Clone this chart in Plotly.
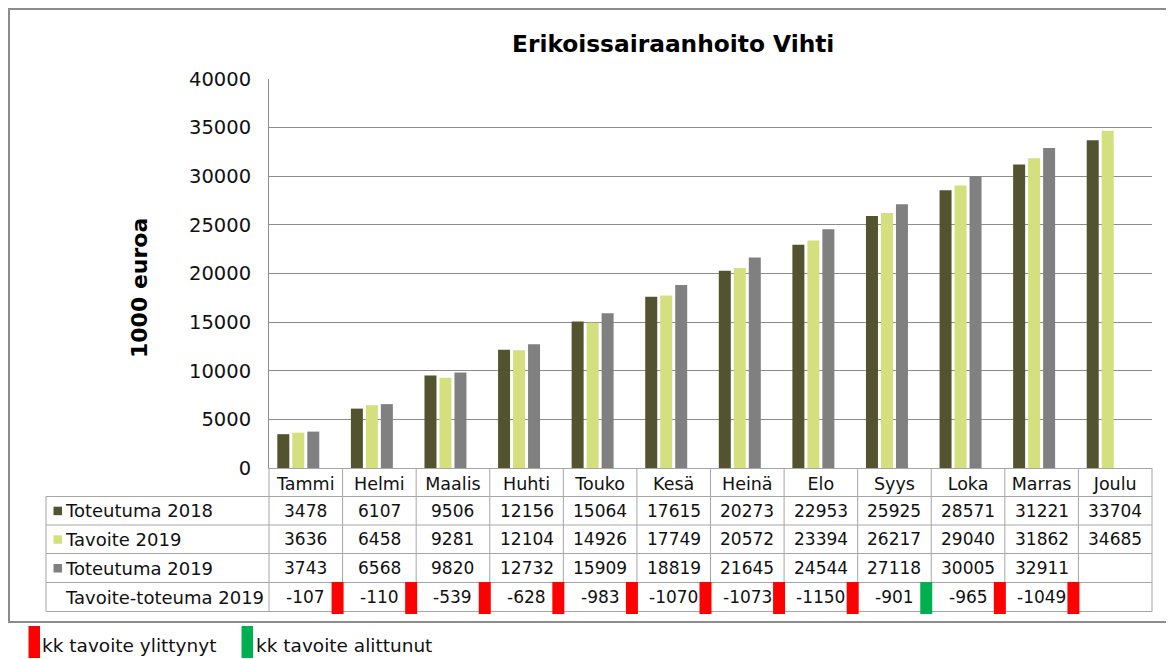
import plotly.graph_objects as go

# ---------------- data ----------------
months = ["Tammi", "Helmi", "Maalis", "Huhti", "Touko", "Kesä",
          "Heinä", "Elo", "Syys", "Loka", "Marras", "Joulu"]
toteutuma_2018 = [3478, 6107, 9506, 12156, 15064, 17615,
                  20273, 22953, 25925, 28571, 31221, 33704]
tavoite_2019 = [3636, 6458, 9281, 12104, 14926, 17749,
                20572, 23394, 26217, 29040, 31862, 34685]
toteutuma_2019 = [3743, 6568, 9820, 12732, 15909, 18819,
                  21645, 24544, 27118, 30005, 32911, None]
tavoite_toteuma_2019 = [-107, -110, -539, -628, -983, -1070,
                        -1073, -1150, -901, -965, -1049, None]
y_ticks = [0, 5000, 10000, 15000, 20000, 25000, 30000, 35000, 40000]

series_names = ["Toteutuma 2018", "Tavoite 2019", "Toteutuma 2019"]
series_values = [toteutuma_2018, tavoite_2019, toteutuma_2019]
series_colors = ["#545330", "#D4E07E", "#808080"]
diff_name = "Tavoite-toteuma 2019"
legend_texts = ["kk tavoite ylittynyt", "kk tavoite alittunut"]
RED, GREEN = "#FF0000", "#00B050"

# ---------------- geometry helpers ----------------
# The page body has an 8px margin, so the figure is sized to fill the
# remaining viewport and all design positions are given in window pixels.
OFF = 8
FW, FH = 1174 - OFF, 659 - OFF
def px(x):
    return (x - OFF) / FW
def py(y):
    return 1 - (y - OFF) / FH

FONT = "DejaVu Sans"
X0, X1 = 269, 1152
Y0, YTOP = 468, 79
TABLE_LEFT = 46
row_lines = [496.5, 525, 553.5, 582.5, 611.5]
row_centers = [510.7, 539.3, 568, 597]

fig = go.Figure()
for name, vals, col in zip(series_names, series_values, series_colors):
    fig.add_trace(go.Bar(x=months, y=vals, name=name, marker_color=col,
                         marker_line_width=0, showlegend=False))
# fourth (difference) series: part of the chart, falls below the axis
fig.add_trace(go.Bar(x=months, y=tavoite_toteuma_2019, name=diff_name,
                     marker_color="rgba(0,0,0,0)", showlegend=False,
                     hoverinfo="skip"))

shapes = []
annotations = []
TABLE_LINE = "#A6A6A6"

# outer chart border
shapes.append(dict(type="rect", xref="paper", yref="paper",
                   x0=px(9), x1=px(1171), y0=py(622), y1=py(9),
                   line=dict(color="#8C8C8C", width=2), layer="below"))

# table grid
for yl in row_lines:
    shapes.append(dict(type="line", xref="paper", yref="paper",
                       x0=px(TABLE_LEFT), x1=px(X1), y0=py(yl), y1=py(yl),
                       line=dict(color=TABLE_LINE, width=1)))
n = len(months)
for i in range(n + 1):
    xb = X0 + (X1 - X0) * i / n
    shapes.append(dict(type="line", xref="paper", yref="paper",
                       x0=px(xb), x1=px(xb), y0=py(Y0), y1=py(row_lines[-1]),
                       line=dict(color=TABLE_LINE, width=1)))
shapes.append(dict(type="line", xref="paper", yref="paper",
                   x0=px(TABLE_LEFT), x1=px(TABLE_LEFT),
                   y0=py(row_lines[0]), y1=py(row_lines[-1]),
                   line=dict(color=TABLE_LINE, width=1)))

# row labels with colour keys
for k, (name, col) in enumerate(zip(series_names, series_colors)):
    yc = row_centers[k]
    shapes.append(dict(type="rect", xref="paper", yref="paper",
                       x0=px(53.5), x1=px(62), y0=py(yc + 4.5), y1=py(yc - 4),
                       fillcolor=col, line=dict(width=0)))
    annotations.append(dict(xref="paper", yref="paper", x=px(62.5), y=py(yc),
                            text=name, showarrow=False, xanchor="left",
                            yanchor="middle",
                            font=dict(family=FONT, size=18, color="#111")))
annotations.append(dict(xref="paper", yref="paper", x=px(62.5), y=py(row_centers[3]),
                        text=diff_name, showarrow=False, xanchor="left",
                        yanchor="middle",
                        font=dict(family=FONT, size=18, color="#111")))

# table values
for k, vals in enumerate(series_values + [tavoite_toteuma_2019]):
    for m, v in zip(months, vals):
        if v is None:
            continue
        annotations.append(dict(xref="x", yref="paper", x=m, y=py(row_centers[k]),
                                text=str(v), showarrow=False,
                                xanchor="center", yanchor="middle",
                                font=dict(family=FONT, size=17, color="#111")))

# monthly status markers (red: monthly target exceeded, green: undershot)
prev = 0
col_px = (X1 - X0) / n
for i, d in enumerate(tavoite_toteuma_2019):
    if d is None:
        continue
    color = GREEN if d > prev else RED
    prev = d
    shapes.append(dict(type="rect", xref="x", yref="paper",
                       x0=i + 0.5 - 11 / col_px, x1=i + 0.5 + 1 / col_px,
                       y0=py(614), y1=py(582),
                       fillcolor=color, line=dict(width=0)))

# bottom legend
for (x_rect, col, txt, x_txt) in [(28.5, RED, legend_texts[0], 39.5),
                                   (241.5, GREEN, legend_texts[1], 253.5)]:
    shapes.append(dict(type="rect", xref="paper", yref="paper",
                       x0=px(x_rect), x1=px(x_rect + 11.5),
                       y0=py(658), y1=py(626),
                       fillcolor=col, line=dict(width=0)))
    annotations.append(dict(xref="paper", yref="paper", x=px(x_txt), y=py(645),
                            text=txt, showarrow=False, xanchor="left",
                            yanchor="middle",
                            font=dict(family=FONT, size=18.5, color="#111")))

# title and y-axis title
annotations.append(dict(xref="paper", yref="paper", x=px(673), y=py(44),
                        text="<b>Erikoissairaanhoito Vihti</b>", showarrow=False,
                        xanchor="center", yanchor="middle",
                        font=dict(family=FONT, size=23.3, color="#000")))
annotations.append(dict(xref="paper", yref="paper", x=px(139), y=py(288),
                        text="<b>1000 euroa</b>", showarrow=False, textangle=-90,
                        xanchor="center", yanchor="middle",
                        font=dict(family=FONT, size=22, color="#000")))

fig.update_layout(
    width=FW, height=FH, autosize=False,
    margin=dict(l=0, r=0, t=0, b=0, pad=0, autoexpand=False),
    paper_bgcolor="white", plot_bgcolor="white",
    barmode="group", bargap=0.185, bargroupgap=0.2,
    shapes=shapes, annotations=annotations,
    xaxis=dict(domain=[px(X0), px(X1)], type="category",
               categoryorder="array", categoryarray=months,
               showline=True, linecolor=TABLE_LINE, linewidth=1,
               showgrid=False, ticks="", ticklabelstandoff=0,
               tickfont=dict(family=FONT, size=17.5, color="#111"),
               fixedrange=True),
    yaxis=dict(domain=[py(Y0), py(YTOP)], range=[0, 40000],
               tickvals=y_ticks, ticktext=[str(t) for t in y_ticks],
               showgrid=True, gridcolor="#8C8C8C", gridwidth=1,
               showline=True, linecolor="#8C8C8C", linewidth=1,
               zeroline=False, ticks="", ticklabelstandoff=13,
               tickfont=dict(family=FONT, size=19.5, color="#111"),
               fixedrange=True),
    font=dict(family=FONT),
)

fig.write_html("out.html")
